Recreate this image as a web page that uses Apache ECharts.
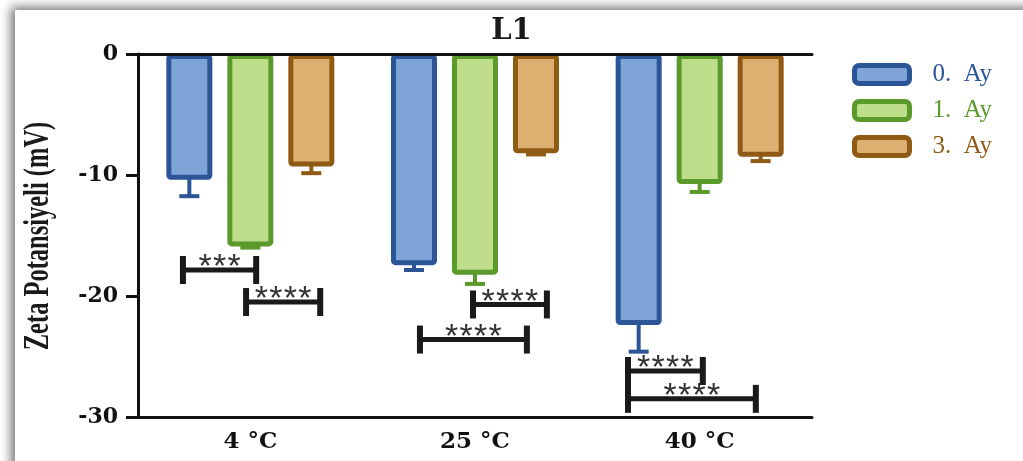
<!DOCTYPE html>
<html>
<head>
<meta charset="utf-8">
<script src="https://cdn.jsdelivr.net/npm/echarts@6/dist/echarts.min.js"></script>
<style>
  html, body { margin: 0; padding: 0; background: #fff; overflow: hidden; }
  #frame {
    position: absolute; left: 15px; top: 10px; width: 1100px; height: 520px;
    background: #fff; box-shadow: -4px -3px 10px rgba(0, 0, 0, 0.55);
  }
  #chart { position: absolute; left: 0; top: 0; width: 1023px; height: 461px; }
</style>
</head>
<body>
<div id="frame"></div>
<div id="chart"></div>
<script>
// Zeta potential (mV) per storage temperature and storage time
const categories = ['4 °C', '25 °C', '40 °C'];
const seriesNames = ['0. Ay', '1. Ay', '3. Ay'];

const ay0 = [-10.4, -17.45, -22.4];
const ay0Err = [1.35, 0.4, 2.2];
const ay1 = [-15.9, -18.25, -10.75];
const ay1Err = [0.1, 0.75, 0.65];
const ay3 = [-9.3, -8.2, -8.5];
const ay3Err = [0.55, 0.1, 0.35];

// significance annotations: level (mV) and star label
const sigLevel = [-17.85, -20.5, -20.7, -23.6, -26.2, -28.5];
const sigLabel = ['***', '****', '****', '****', '****', '****'];
// bracket ends in category-axis units (0..3)
const sigSpan = [[0.20, 0.526], [0.481, 0.811], [1.491, 1.82], [1.255, 1.731], [2.181, 2.514], [2.181, 2.75]];

const fills = ['#7ea3d6', '#bddd8a', '#ddb072'];
const strokes = ['#2b5597', '#5a9a2a', '#8f5a14'];
const values = [ay0, ay1, ay3];
const errors = [ay0Err, ay1Err, ay3Err];

const BAR_W = 46;
const BAR_GAP = 0.326;
const barOffset = i => (i - 1) * BAR_W * (1 + BAR_GAP);

const chart = echarts.init(document.getElementById('chart'), null, { renderer: 'canvas' });

const barSeries = values.map((v, i) => ({
  name: seriesNames[i],
  type: 'bar',
  data: v,
  barWidth: BAR_W,
  barGap: (BAR_GAP * 100) + '%',
  itemStyle: { color: fills[i], borderColor: strokes[i], borderWidth: 5, borderRadius: 2 }
}));

const errSeries = values.map((v, i) => ({
  type: 'custom',
  z: 3,
  data: v.map((val, k) => [k, val, errors[i][k]]),
  encode: { x: 0, y: 1 },
  renderItem: (params, api) => {
    const top = api.coord([api.value(0), api.value(1)]);
    const end = api.coord([api.value(0), api.value(1) - api.value(2)]);
    const x = top[0] + barOffset(i);
    const style = { stroke: strokes[i], lineWidth: 4 };
    return {
      type: 'group',
      children: [
        { type: 'line', shape: { x1: x, y1: top[1] - 2, x2: x, y2: end[1] }, style },
        { type: 'line', shape: { x1: x - 10, y1: end[1], x2: x + 10, y2: end[1] }, style }
      ]
    };
  }
}));

const bracketSeries = {
  type: 'custom',
  xAxisIndex: 1,
  z: 4,
  data: sigLevel.map((lv, k) => [sigSpan[k][0], sigSpan[k][1], lv, k]),
  encode: { x: [0, 1], y: 2 },
  renderItem: (params, api) => {
    const k = api.value(3);
    const a = api.coord([api.value(0), api.value(2)]);
    const b = api.coord([api.value(1), api.value(2)]);
    const y = a[1];
    const col = '#1a1a1a';
    const children = [
      { type: 'line', shape: { x1: a[0], y1: y, x2: b[0], y2: y }, style: { stroke: col, lineWidth: 5 } },
      { type: 'line', shape: { x1: a[0], y1: y - 14, x2: a[0], y2: y + 14 }, style: { stroke: col, lineWidth: 6 } },
      { type: 'line', shape: { x1: b[0], y1: y - 14, x2: b[0], y2: y + 14 }, style: { stroke: col, lineWidth: 6 } }
    ];
    const stars = sigLabel[k].length;
    const step = 14.5;
    const cx = (a[0] + b[0]) / 2;
    for (let s = 0; s < stars; s++) {
      children.push({
        type: 'text',
        x: cx + (s - (stars - 1) / 2) * step,
        y: y - 2,
        style: { text: '*', font: '34px "Liberation Sans"', fill: '#333', align: 'center', verticalAlign: 'middle' }
      });
    }
    return { type: 'group', children };
  }
};

const axisColor = '#111';
const boldSerif = { fontFamily: 'DejaVu Serif', fontWeight: 'bold', color: axisColor };

chart.setOption({
  animation: false,
  title: {
    text: 'L1', left: 'center', top: 12,
    textStyle: { fontFamily: 'DejaVu Serif', fontWeight: 'bold', fontSize: 29, color: '#1a1a1a' }
  },
  legend: {
    orient: 'vertical', left: 852, top: 62, padding: 0,
    itemWidth: 55, itemHeight: 18, itemGap: 11,
    icon: 'roundRect',
    itemStyle: { borderWidth: 5 },
    formatter: n => n.replace(' ', '\u2002'),
    data: seriesNames.map((n, i) => ({ name: n, textStyle: { color: strokes[i] } })),
    textStyle: { fontFamily: 'Liberation Serif', fontSize: 25, padding: [0, 0, 0, 18] }
  },
  grid: { left: 138, right: 211, top: 54, bottom: 44 },
  xAxis: [
    {
      type: 'category', data: categories, position: 'bottom',
      axisLine: { onZero: false, lineStyle: { color: axisColor, width: 3 } },
      axisTick: { alignWithLabel: true, length: 10, lineStyle: { color: axisColor, width: 3 } },
      axisLabel: Object.assign({ fontSize: 23, margin: 14 }, boldSerif)
    },
    {
      type: 'value', min: 0, max: 3, position: 'top', z: 5,
      axisLine: { show: true, onZero: false, lineStyle: { color: axisColor, width: 3 } },
      axisTick: { show: false }, axisLabel: { show: false }, splitLine: { show: false }
    }
  ],
  yAxis: {
    type: 'value', min: -30, max: 0, interval: 10,
    axisLine: { show: true, onZero: false, lineStyle: { color: axisColor, width: 3 } },
    axisTick: { show: true, length: 12, lineStyle: { color: axisColor, width: 3 } },
    axisLabel: Object.assign({ fontSize: 22, margin: 20 }, boldSerif),
    splitLine: { show: false }
  },
  graphic: [{
    type: 'text', x: 39, y: 236, rotation: Math.PI / 2, scaleX: 0.68,
    style: {
      text: 'Zeta Potansiyeli (mV)', font: 'bold 36px "Liberation Serif"',
      fill: '#1a1a1a', align: 'center', verticalAlign: 'middle'
    }
  }],
  series: [...barSeries, ...errSeries, bracketSeries]
});
</script>
</body>
</html>
